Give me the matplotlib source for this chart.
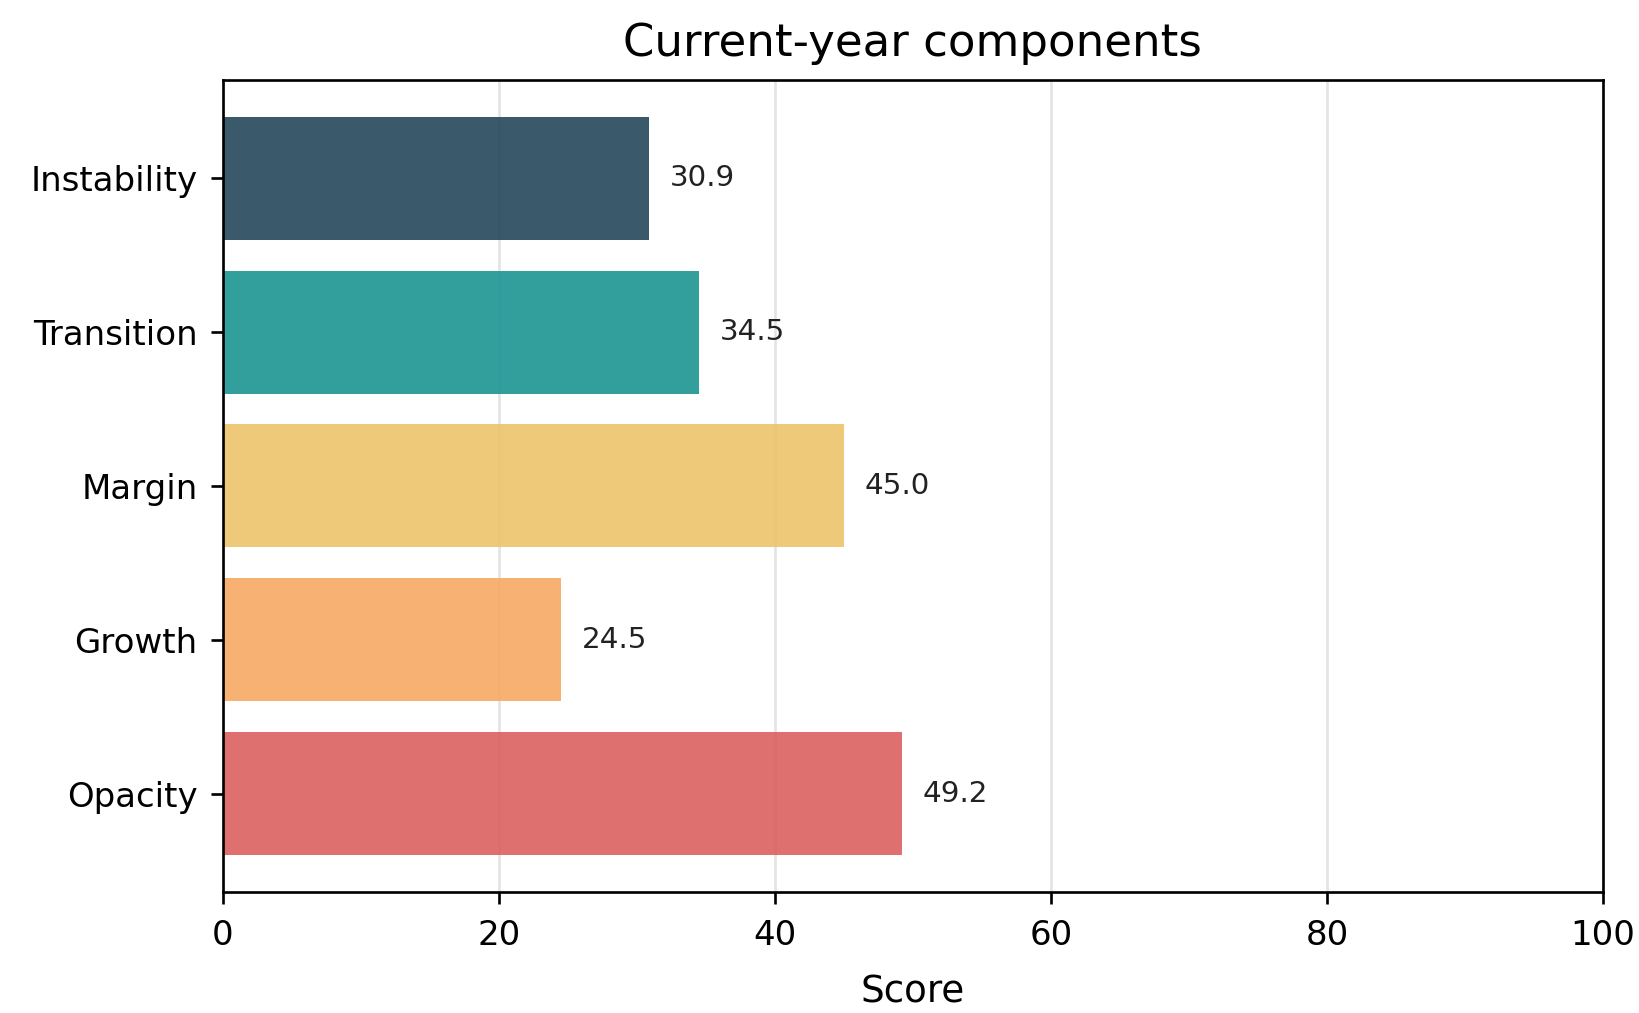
import matplotlib
matplotlib.use("Agg")
import matplotlib.pyplot as plt

# Component scores for the current year (top to bottom as displayed)
components = ["Instability", "Transition", "Margin", "Growth", "Opacity"]
scores = [30.9, 34.5, 45.0, 24.5, 49.2]
bar_colors = ["#24485b", "#1c9593", "#ecc36b", "#f7a963", "#dc6060"]
x_ticks = [0, 20, 40, 60, 80, 100]

fig = plt.figure(figsize=(1639 / 240, 1013 / 240), dpi=240)
ax = fig.add_axes([0.136, 0.1195, 0.842, 0.8015])

# Plot in reverse so the first component sits at the top
positions = list(range(len(components)))[::-1]
ax.barh(positions, scores, height=0.8, color=bar_colors, alpha=0.9, zorder=2)

for y, v in zip(positions, scores):
    ax.text(v + 1.5, y, f"{v:.1f}", va="center", ha="left", fontsize=8.8,
            color="#222222", zorder=3)

ax.set_yticks(positions)
ax.set_yticklabels(components)
ax.set_xlim(0, 100)
ax.set_xticks(x_ticks)
ax.tick_params(axis="both", labelsize=10.2)
ax.tick_params(axis="x", pad=4.6)
ax.tick_params(axis="y", pad=4.1)
ax.set_xlabel("Score", fontsize=11.2, labelpad=6.6)
ax.set_title("Current-year components", fontsize=13.5, pad=7.3)
ax.grid(axis="x", color="#dddddd", linewidth=0.8, alpha=0.8, zorder=0)
ax.set_axisbelow(True)

fig.savefig("out.png", dpi=240)
